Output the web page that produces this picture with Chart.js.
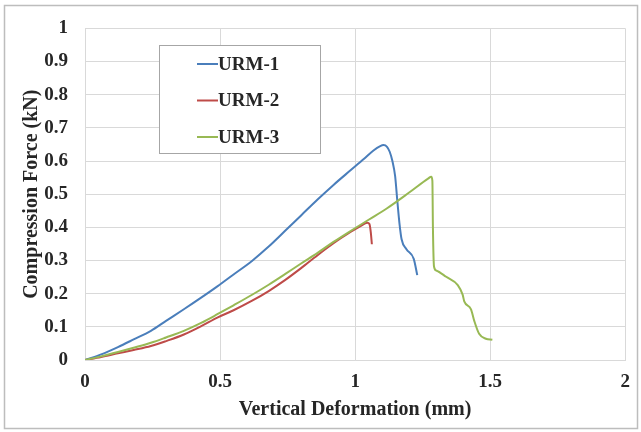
<!DOCTYPE html>
<html>
<head>
<meta charset="utf-8">
<script src="https://cdn.jsdelivr.net/npm/chart.js@4/dist/chart.umd.min.js"></script>
<style>
  html, body { margin: 0; padding: 0; background: #ffffff; }
  #wrap { width: 641px; height: 432px; position: relative; }
</style>
</head>
<body>
<div id="wrap"><canvas id="c" width="641" height="432"></canvas></div>
<script>
// ---- Data ----
const seriesNames = ['URM-1', 'URM-2', 'URM-3'];
const seriesColors = ['#4a7ebb', '#be4b48', '#98b954'];

const urm1X = [0, 0.06, 0.122, 0.18, 0.244, 0.30, 0.366, 0.43, 0.49, 0.55, 0.617, 0.68, 0.739, 0.80, 0.861, 0.92, 0.983, 1.032, 1.068, 1.093, 1.105, 1.118, 1.128, 1.138, 1.148, 1.156, 1.164, 1.172, 1.19, 1.217, 1.23];
const urm1Y = [0, 0.017, 0.039, 0.062, 0.088, 0.118, 0.153, 0.188, 0.222, 0.258, 0.298, 0.342, 0.388, 0.436, 0.484, 0.528, 0.572, 0.606, 0.632, 0.645, 0.648, 0.643, 0.628, 0.600, 0.555, 0.482, 0.413, 0.364, 0.334, 0.305, 0.256];

const urm2X = [0, 0.06, 0.122, 0.18, 0.244, 0.30, 0.366, 0.43, 0.49, 0.55, 0.617, 0.68, 0.739, 0.80, 0.861, 0.92, 0.983, 1.02, 1.045, 1.053, 1.058, 1.062];
const urm2Y = [0, 0.009, 0.020, 0.030, 0.042, 0.057, 0.077, 0.102, 0.128, 0.150, 0.178, 0.208, 0.240, 0.277, 0.316, 0.352, 0.386, 0.404, 0.414, 0.410, 0.385, 0.349];

const urm3X = [0, 0.06, 0.122, 0.18, 0.244, 0.30, 0.366, 0.43, 0.49, 0.55, 0.617, 0.68, 0.739, 0.80, 0.861, 0.92, 0.983, 1.05, 1.117, 1.2, 1.27, 1.282, 1.286, 1.288, 1.292, 1.300, 1.337, 1.380, 1.398, 1.404, 1.429, 1.441, 1.459, 1.484, 1.508];
const urm3Y = [0, 0.011, 0.024, 0.037, 0.052, 0.068, 0.088, 0.112, 0.138, 0.165, 0.196, 0.227, 0.258, 0.291, 0.323, 0.356, 0.389, 0.423, 0.457, 0.505, 0.547, 0.553, 0.54, 0.40, 0.282, 0.270, 0.251, 0.226, 0.197, 0.177, 0.153, 0.118, 0.079, 0.064, 0.061];

const xTicks = [0, 0.5, 1, 1.5, 2];
const yTicks = [0, 0.1, 0.2, 0.3, 0.4, 0.5, 0.6, 0.7, 0.8, 0.9, 1];
const xTitle = 'Vertical Deformation (mm)';
const yTitle = 'Compression Force (kN)';

function pts(xs, ys) { return xs.map((x, i) => ({ x: x, y: ys[i] })); }
const seriesData = [pts(urm1X, urm1Y), pts(urm2X, urm2Y), pts(urm3X, urm3Y)];
const drawOrder = [1, 2, 0];

const FONT = '"Liberation Serif", "Times New Roman", serif';
const TEXT = '#262626';

// Outer frame + legend box inside the plot area
const framePlugin = {
  id: 'frame',
  beforeDraw(chart) {
    const ctx = chart.ctx;
    ctx.save();
    ctx.fillStyle = '#ffffff';
    ctx.fillRect(0, 0, chart.width, chart.height);
    ctx.strokeStyle = '#bdbdbd';
    ctx.lineWidth = 1.5;
    ctx.strokeRect(4.5, 5.5, 633, 423);
    ctx.restore();
  },
  afterDatasetsDraw(chart) {
    const ctx = chart.ctx;
    ctx.save();
    const bx = 159.5, by = 45.5, bw = 161, bh = 108;
    ctx.fillStyle = '#ffffff';
    ctx.fillRect(bx, by, bw, bh);
    ctx.strokeStyle = '#a6a6a6';
    ctx.lineWidth = 1;
    ctx.strokeRect(bx, by, bw, bh);
    ctx.font = 'bold 19px ' + FONT;
    ctx.textBaseline = 'middle';
    ctx.textAlign = 'left';
    chart.data.datasets.forEach((ds, i) => {
      const y = 64 + i * 36.5;
      ctx.strokeStyle = ds.borderColor;
      ctx.lineWidth = 2;
      ctx.beginPath();
      ctx.moveTo(197, y);
      ctx.lineTo(218, y);
      ctx.stroke();
      ctx.fillStyle = TEXT;
      ctx.fillText(ds.label, 218, y + 1);
    });
    ctx.restore();
  }
};

new Chart(document.getElementById('c'), {
  type: 'scatter',
  data: {
    datasets: seriesNames.map((n, i) => ({
      label: n,
      data: seriesData[i],
      showLine: true,
      order: drawOrder[i],
      borderColor: seriesColors[i],
      backgroundColor: seriesColors[i],
      borderWidth: 2,
      pointRadius: 0,
      cubicInterpolationMode: 'monotone',
      fill: false
    }))
  },
  options: {
    responsive: false,
    animation: false,
    devicePixelRatio: 1,
    layout: { padding: { left: 20, right: 10, top: 21, bottom: 10 } },
    plugins: { legend: { display: false }, tooltip: { enabled: false } },
    scales: {
      x: {
        type: 'linear',
        min: 0, max: 2,
        afterBuildTicks: s => { s.ticks = xTicks.map(v => ({ value: v })); },
        afterFit: s => { s.height = 62; },
        grid: { color: '#d9d9d9', drawTicks: false, lineWidth: 1 },
        border: { color: '#d9d9d9' },
        ticks: {
          padding: 11,
          color: TEXT,
          font: { family: FONT, size: 19, weight: 'bold' },
          maxRotation: 0,
          callback: v => String(v)
        },
        title: {
          display: true, text: xTitle, color: TEXT,
          font: { family: FONT, size: 20, weight: 'bold' },
          padding: { top: 0, bottom: 0 }
        }
      },
      y: {
        type: 'linear',
        min: 0, max: 1,
        afterBuildTicks: s => { s.ticks = yTicks.map(v => ({ value: v })); },
        afterFit: s => { s.width = 65; },
        grid: { color: '#d9d9d9', drawTicks: false, lineWidth: 1 },
        border: { color: '#d9d9d9' },
        ticks: {
          padding: 17,
          color: TEXT,
          font: { family: FONT, size: 19, weight: 'bold' },
          callback: v => String(v)
        },
        title: {
          display: true, text: yTitle, color: TEXT,
          font: { family: FONT, size: 20, weight: 'bold' },
          padding: { top: 0, bottom: 0 }
        }
      }
    }
  },
  plugins: [framePlugin]
});
</script>
</body>
</html>
